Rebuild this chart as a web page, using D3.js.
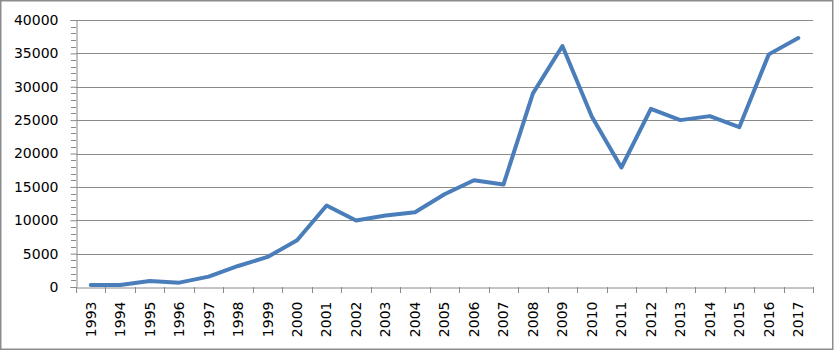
<!DOCTYPE html>
<html>
<head>
<meta charset="utf-8">
<script src="https://cdn.jsdelivr.net/npm/d3@7"></script>
<style>
  body { margin: 0; background: #fff; }
  svg { display: block; }
</style>
</head>
<body>
<div id="chart"></div>
<script>
const years = ["1993", "1994", "1995", "1996", "1997", "1998", "1999", "2000",
  "2001", "2002", "2003", "2004", "2005", "2006", "2007", "2008", "2009",
  "2010", "2011", "2012", "2013", "2014", "2015", "2016", "2017"];
const values = [300, 300, 900, 650, 1550, 3150, 4500, 7000,
  12200, 9950, 10700, 11200, 13900, 16000, 15350, 29000, 36100,
  25500, 17900, 26700, 25000, 25600, 23950, 34850, 37300];
const yTicks = [0, 5000, 10000, 15000, 20000, 25000, 30000, 35000, 40000];

const W = 836, H = 351;
const margin = { top: 20, right: 23, bottom: 64, left: 76 };
const width = W - margin.left - margin.right;
const height = H - margin.top - margin.bottom;

const svg = d3.select("#chart").append("svg")
  .attr("width", W)
  .attr("height", H);

// cadre extérieur
svg.append("rect")
  .attr("x", 0.75).attr("y", 0.75)
  .attr("width", 832).attr("height", 348.5)
  .attr("fill", "#fff")
  .attr("stroke", "#8c8c8c")
  .attr("stroke-width", 1.5);

const g = svg.append("g")
  .attr("transform", `translate(${margin.left},${margin.top})`);

const x = d3.scaleBand().domain(years).range([0, width]).padding(0);
const y = d3.scaleLinear().domain([0, 40000]).range([height, 0]);

// lignes de grille
g.append("g")
  .selectAll("line")
  .data(yTicks.filter((d) => d > 0))
  .enter()
  .append("line")
  .attr("x1", 0).attr("x2", width)
  .attr("y1", (d) => Math.round(y(d)) + 0.5)
  .attr("y2", (d) => Math.round(y(d)) + 0.5)
  .attr("stroke", "#8a8a8a")
  .attr("stroke-width", 1);

// petites graduations (minor ticks)
const minor = d3.range(0, 40001, 1000).filter((d) => d % 5000 !== 0);
g.append("g")
  .selectAll("line")
  .data(minor)
  .enter()
  .append("line")
  .attr("x1", -5).attr("x2", 0)
  .attr("y1", (d) => Math.round(y(d)) + 0.5)
  .attr("y2", (d) => Math.round(y(d)) + 0.5)
  .attr("stroke", "#8a8a8a");

// axe Y
const yAxis = g.append("g")
  .attr("transform", "translate(0.5,0)")
  .call(d3.axisLeft(y).tickValues(yTicks).tickSize(6).tickPadding(12)
    .tickFormat(d3.format("d")));
yAxis.select(".domain").attr("stroke", "#8a8a8a");
yAxis.selectAll(".tick line").attr("stroke", "#8a8a8a");
yAxis.selectAll("text")
  .style("font-family", "DejaVu Sans, Verdana, sans-serif")
  .style("font-size", "14px")
  .attr("fill", "#000");

// axe X
const xAxis = g.append("g")
  .attr("transform", `translate(0,${height + 0.5})`)
  .call(d3.axisBottom(x).tickSize(0).tickPadding(0));
xAxis.select(".domain").attr("stroke", "#8a8a8a");
xAxis.selectAll("text")
  .style("font-family", "DejaVu Sans, Verdana, sans-serif")
  .style("font-size", "14px")
  .attr("fill", "#000")
  .attr("text-anchor", "end")
  .attr("transform", "rotate(-90)")
  .attr("x", -14)
  .attr("y", 0)
  .attr("dy", "0.35em");

// graduations entre les catégories
g.append("g")
  .selectAll("line")
  .data(d3.range(years.length + 1))
  .enter()
  .append("line")
  .attr("x1", (i) => Math.round(i * x.step()) + 0.5)
  .attr("x2", (i) => Math.round(i * x.step()) + 0.5)
  .attr("y1", height)
  .attr("y2", height + 6)
  .attr("stroke", "#8a8a8a");

// courbe
const line = d3.line()
  .x((d, i) => x(years[i]) + x.bandwidth() / 2)
  .y((d) => y(d));

g.append("path")
  .datum(values)
  .attr("d", line)
  .attr("fill", "none")
  .attr("stroke", "#4a7ebb")
  .attr("stroke-width", 4)
  .attr("stroke-linejoin", "round")
  .attr("stroke-linecap", "round");
</script>
</body>
</html>
